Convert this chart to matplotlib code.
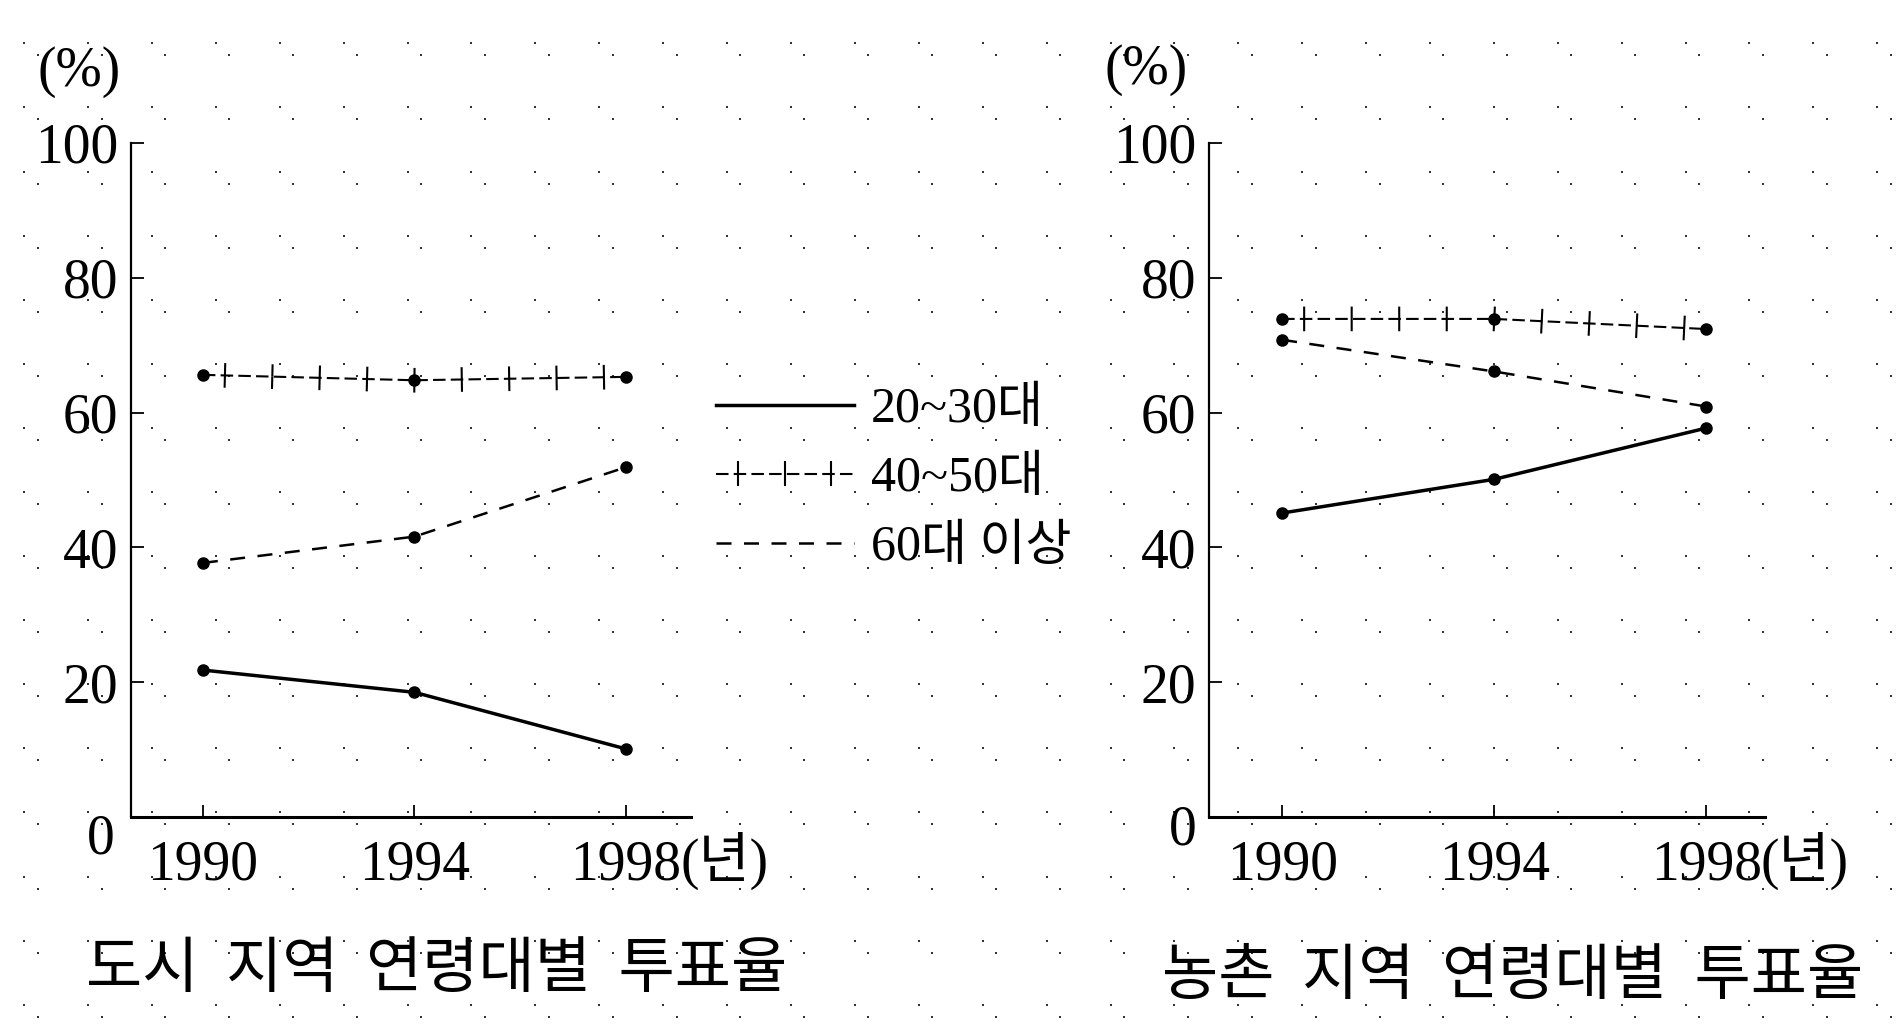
import numpy as np
import matplotlib
matplotlib.use("Agg")
from matplotlib import pyplot as plt
from matplotlib import patheffects as pe

plt.rcParams['font.family'] = ['Liberation Serif', 'Noto Sans CJK KR']

years = [1990, 1994, 1998]
series_labels = ["20~30대", "40~50대", "60대 이상"]

# 도시 지역
city_2030 = [21.8, 18.5, 10.1]
city_4050 = [65.6, 64.8, 65.3]
city_60 = [37.7, 41.6, 51.9]

# 농촌 지역
rural_2030 = [45.1, 50.1, 57.7]
rural_4050 = [73.9, 73.9, 72.4]
rural_60 = [70.8, 66.1, 60.9]

y_ticks = [20, 40, 60, 80, 100]
titles = ["도시  지역  연령대별  투표율", "농촌  지역  연령대별  투표율"]

W, H = 1902, 1032
fig = plt.figure(figsize=(W / 100, H / 100), dpi=100)

# dotted paper in the background
bg = fig.add_axes([0, 0, 1, 1], zorder=-5)
bg.set_xlim(0, W)
bg.set_ylim(H, 0)
bg.axis("off")
gx, gy = np.meshgrid(np.arange(24.2, W, 63.9), np.arange(43.3, H, 64.1))
bg.scatter(gx.ravel(), gy.ravel(), s=3, marker="s", c="#333333", linewidths=0)
bg.scatter(gx.ravel() + 13.4, gy.ravel() + 12, s=3, marker="s", c="#333333", linewidths=0)

plus_fx = [pe.TickedStroke(spacing=31.7, angle=90, length=0.28, dashes=dict(dash_offset=0, dash_list=None)),
           pe.TickedStroke(spacing=31.7, angle=-90, length=0.28, dashes=dict(dash_offset=0, dash_list=None)),
           pe.Normal()]


def draw_panel(rect, s2030, s4050, s60, xlim, zero_off, title, title_xy, pct_xy):
    ax = fig.add_axes(rect)
    ax.set_facecolor("none")
    ax.plot(years, s2030, color="black", lw=2.5, label=series_labels[0])
    ax.plot(years, s4050, color="black", lw=1.5, ls=(0, (6, 2.5)),
            path_effects=plus_fx, label=series_labels[1])
    ax.plot(years, s60, color="black", lw=1.8, ls=(0, (6, 5)), label=series_labels[2])
    for s in (s2030, s4050, s60):
        ax.plot(years, s, ls="none", marker="o", ms=8, color="black")

    ax.set_xlim(*xlim)
    ax.set_ylim(0, 100)
    ax.set_xticks(years)
    ax.set_xticklabels([str(y) for y in years])
    ax.set_yticks(y_ticks)
    ax.tick_params(axis="both", direction="in", length=9, width=1.3, labelsize=40)
    ax.tick_params(axis="x", pad=16)
    ax.tick_params(axis="y", pad=9)
    for side in ("top", "right"):
        ax.spines[side].set_visible(False)
    ax.spines["left"].set_linewidth(1.6)
    ax.spines["bottom"].set_linewidth(2.2)

    ax.annotate("0", xy=(0, 0), xycoords="axes fraction", xytext=zero_off,
                textcoords="offset points", ha="center", va="center", fontsize=40)
    ax.annotate("(년)", xy=(years[-1], 0), xycoords=("data", "axes fraction"),
                xytext=(39, -43.5), textcoords="offset points", ha="left",
                va="baseline", fontsize=40)
    fig.text(title_xy[0] / W, 1 - title_xy[1] / H, title, ha="center", va="center",
             fontsize=44, family="Noto Sans CJK KR")
    fig.text(pct_xy[0] / W, 1 - pct_xy[1] / H, "(%)", ha="center", va="center", fontsize=40)
    return ax


ax1 = draw_panel([131 / W, 1 - 817 / H, 560 / W, 674 / H], city_2030, city_4050, city_60,
                 (1988.64, 1999.23), (-22, -16), titles[0], (437, 970), (79, 72))
ax2 = draw_panel([1209 / W, 1 - 817 / H, 556 / W, 674 / H], rural_2030, rural_4050, rural_60,
                 (1988.62, 1999.11), (-19, -10), titles[1], (1513, 977), (1146, 70))

handles, labels = ax1.get_legend_handles_labels()
fig.legend(handles, labels, loc="center left", bbox_to_anchor=(716 / W, 1 - 479 / H),
           frameon=False, fontsize=36, handlelength=2.75, handletextpad=0.35,
           labelspacing=0.45, borderpad=0, borderaxespad=0)

fig.savefig("out.png", dpi=100)
